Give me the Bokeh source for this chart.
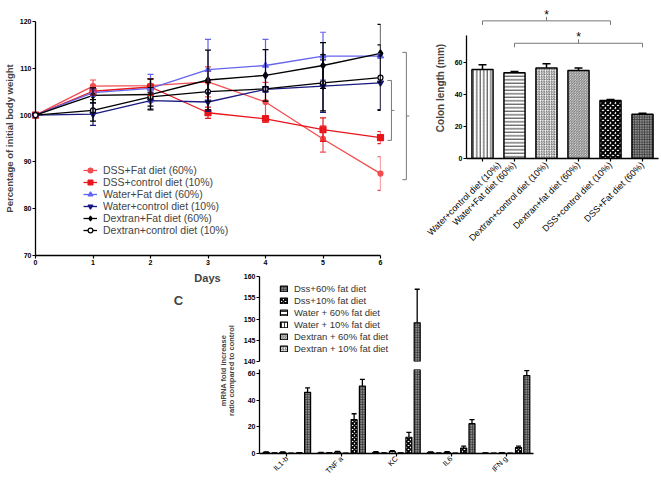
from math import pi
from bokeh.plotting import figure
from bokeh.layouts import column, row
from bokeh.models import (ColumnDataSource, Whisker, TeeHead, Label, Range1d,
                          FactorRange, FixedTicker, Legend, LegendItem, CDSView, BooleanFilter)
from bokeh.transform import dodge
from bokeh.embed import file_html
from bokeh.resources import INLINE
from bokeh.core.properties import value

# ---------------- data: panel A (body weight) ----------------
days = [0, 1, 2, 3, 4, 5, 6]
weight_names = ["DSS+Fat diet (60%)", "DSS+control diet (10%)", "Water+Fat diet (60%)",
                "Water+control diet (10%)", "Dextran+Fat diet (60%)", "Dextran+control diet (10%)"]
dss_fat = [100, 106.2, 106.3, 107.1, 102.8, 94.9, 87.5]
dss_fat_sem = [0, 1.3, 1.5, 3.2, 4.2, 2.8, 3.6]
dss_ctrl = [100, 105.1, 106.0, 100.5, 99.2, 96.9, 95.2]
dss_ctrl_sem = [0, 0.8, 1.8, 1.2, 0.7, 2.5, 1.3]
water_fat = [100, 104.8, 105.7, 109.7, 110.6, 112.6, 112.6]
water_fat_sem = [0, 0.8, 3.0, 6.5, 5.6, 5.1, 0.5]
water_ctrl = [100, 100.2, 103.1, 102.8, 105.5, 106.2, 106.9]
water_ctrl_sem = [0, 2.4, 1.8, 2.0, 0.6, 5.6, 5.7]
dex_fat = [100, 104.2, 104.4, 107.5, 108.5, 110.6, 113.2]
dex_fat_sem = [0, 1.6, 3.3, 6.4, 5.5, 4.9, 6.2]
dex_ctrl = [100, 101.0, 103.9, 105.0, 105.6, 106.9, 108.0]
dex_ctrl_sem = [0, 2.3, 2.0, 2.0, 0.5, 6.0, 7.0]
weight_ticks = [70, 80, 90, 100, 110, 120]

# ---------------- data: panel B (colon length) ----------------
colon_groups = ["Water+control diet (10%)", "Water+Fat diet (60%)", "Dextran+control diet (10%)",
                "Dextran+fat diet (60%)", "DSS+control diet (10%)", "DSS+Fat diet (60%)"]
colon_length = [55.6, 53.6, 56.5, 55.0, 36.2, 27.7]
colon_sem = [2.9, 0.8, 2.7, 1.5, 0.7, 0.5]
colon_ticks = [0, 20, 40, 60]

# ---------------- data: panel C (mRNA) ----------------
cytokines = ["IL1-b", "TNF a", "KC", "IL6", "IFN g"]
mrna_names = ["Water + 10% fat diet", "Water + 60% fat diet", "Dextran + 10% fat diet",
              "Dextran + 60% fat diet", "Dss+10% fat diet", "Dss+60% fat diet"]
water10 = [0.8, 0.5, 0.9, 0.8, 0.3]
water60 = [0.3, 0.4, 0.3, 0.2, 0.2]
dex10 = [0.8, 1.0, 1.5, 0.9, 0.4]
dex60 = [0.2, 0.2, 0.3, 0.2, 0.2]
dss10 = [0.4, 25.4, 12.2, 4.1, 4.5]
dss60 = [45.9, 50.5, 149.1, 22.4, 58.5]
water10_sem = [0.4, 0.3, 0.5, 0.4, 0.2]
water60_sem = [0.2, 0.2, 0.2, 0.2, 0.1]
dex10_sem = [0.4, 0.5, 0.6, 0.4, 0.2]
dex60_sem = [0.1, 0.1, 0.2, 0.1, 0.1]
dss10_sem = [0.3, 4.4, 3.7, 1.5, 1.0]
dss60_sem = [3.3, 5.1, 7.9, 3.0, 3.7]
mrna_low_ticks = [0, 20, 40, 60]
mrna_high_ticks = [140, 145, 150, 155, 160]
legend_order_c = ["Dss+60% fat diet", "Dss+10% fat diet", "Water + 60% fat diet",
                  "Water + 10% fat diet", "Dextran + 60% fat diet", "Dextran + 10% fat diet"]

# ---------------- helpers ----------------
FONT = "Liberation Sans"


def make_fig(x0, y0, w, h, left, top, right, bottom, **kw):
    """Canvas at page position (x0, y0) of size w x h; frame at page box left..right, top..bottom."""
    p = figure(width=w, height=h, output_backend="svg", toolbar_location=None, title=None,
               min_border_left=left - x0, min_border_top=top - y0,
               min_border_right=x0 + w - right, min_border_bottom=y0 + h - bottom,
               frame_align=False, **kw)
    p.border_fill_color = None
    p.background_fill_color = None
    p.outline_line_color = None
    p.grid.visible = False
    return p


def style_axis(ax, size="7px", bold=True, label_size="10.5px"):
    ax.major_label_text_font = FONT
    ax.major_label_text_font_size = size
    ax.major_label_text_font_style = "bold" if bold else "normal"
    ax.major_label_text_color = "black"
    ax.axis_label_text_font = FONT
    ax.axis_label_text_font_style = "bold"
    ax.axis_label_text_font_size = label_size
    ax.minor_tick_line_color = None
    ax.major_tick_in = 0
    ax.major_tick_out = 3
    ax.axis_line_width = 1.3
    ax.major_tick_line_width = 1.2
    ax.major_label_standoff = 1
    ax.axis_label_standoff = 2


def add_text(p, x, y, text, size, bold=False, angle=0, dx=0, dy=0):
    p.add_layout(Label(x=x, y=y, x_offset=dx, y_offset=dy, text=text, text_font=FONT,
                       text_font_size=size, text_font_style="bold" if bold else "normal",
                       text_align="center", text_baseline="middle", angle=angle))


# ================= Panel A =================
pA = make_fig(0, 0, 425, 268, 35, 21, 380, 255,
              x_range=Range1d(0, 6), y_range=Range1d(70, 120))
pA.xaxis.ticker = FixedTicker(ticks=days)
pA.yaxis.ticker = FixedTicker(ticks=weight_ticks)
pA.yaxis.axis_label = "Percentage of initial body weight"
style_axis(pA.xaxis)
style_axis(pA.yaxis, label_size="9.5px")

a_vals = [dss_fat, dss_ctrl, water_fat, water_ctrl, dex_fat, dex_ctrl]
a_sems = [dss_fat_sem, dss_ctrl_sem, water_fat_sem, water_ctrl_sem, dex_fat_sem, dex_ctrl_sem]
a_colors = ["#f24d4d", "#e8141a", "#6464ee", "#181880", "black", "black"]
a_markers = ["circle", "square", "triangle", "inverted_triangle", "diamond", "circle"]
a_fills = ["#f24d4d", "#e8141a", "#6464ee", "#181880", "black", "white"]
a_sizes = [5, 6, 6, 6, 7, 5]

itemsA = []
for name, vals, sems, col, mk, fc, sz in zip(weight_names, a_vals, a_sems, a_colors,
                                             a_markers, a_fills, a_sizes):
    src = ColumnDataSource(dict(x=days, y=vals))
    r1 = pA.line("x", "y", source=src, line_color=col, line_width=1.3, level="annotation")
    wx = [d for d, e in zip(days, sems) if e > 0]
    wu = [v + e for v, e in zip(vals, sems) if e > 0]
    wl = [v - e for v, e in zip(vals, sems) if e > 0]
    wsrc = ColumnDataSource(dict(x=wx, u=wu, l=wl))
    pA.add_layout(Whisker(source=wsrc, base="x", upper="u", lower="l", line_color=col,
                          line_width=1.2, level="annotation",
                          upper_head=TeeHead(size=6, line_color=col, line_width=1.2),
                          lower_head=TeeHead(size=6, line_color=col, line_width=1.2)))
    r2 = pA.scatter("x", "y", source=src, marker=mk, size=sz, line_color=col,
                    fill_color=fc, line_width=1.2, level="annotation")
    itemsA.append(LegendItem(label=name, renderers=[r1, r2]))

legA = Legend(items=itemsA, location=(48, 19), label_text_font=FONT,
              label_text_font_size="10.5px", glyph_width=14, glyph_height=12,
              label_height=12, spacing=0, padding=0, margin=0, label_standoff=6,
              background_fill_alpha=0, border_line_color=None)
pA.add_layout(legA)

last = days[-1]
in_top = max(water_ctrl[-1], dex_ctrl[-1]) - 0.6
in_bot = dss_ctrl[-1] - 0.6
in_mid = (in_top + in_bot) / 2
out_top = max(water_fat[-1], dex_fat[-1]) + 0.2
out_bot = dss_fat[-1] - 1.3
out_mid = (out_top + out_bot) / 2
pA.multi_line(xs=[[last + 0.12, last + 0.19, last + 0.19, last + 0.12], [last + 0.19, last + 0.24],
                  [last + 0.38, last + 0.45, last + 0.45, last + 0.38], [last + 0.45, last + 0.5]],
              ys=[[in_top, in_top, in_bot, in_bot], [in_mid, in_mid],
                  [out_top, out_top, out_bot, out_bot], [out_mid, out_mid]],
              line_color="#777777", line_width=1, level="annotation")
add_text(pA, last + 0.33, in_mid, "*", "13px", dy=-4)
add_text(pA, last + 0.61, out_mid, "**", "13px", dy=-4)
add_text(pA, 0, 120, "A", "13px", bold=True, dx=-25, dy=6)

# ================= Panel B =================
pB = make_fig(425, 0, 234, 268, 466, 17, 658, 158,
              x_range=FactorRange(*colon_groups), y_range=Range1d(0, 88.1))
pB.yaxis.bounds = (0, 77)
pB.yaxis.ticker = FixedTicker(ticks=colon_ticks)
pB.yaxis.axis_label = "Colon length (mm)"
style_axis(pB.yaxis, label_size="10px")
style_axis(pB.xaxis, size="9px", bold=False)
pB.yaxis.axis_label_standoff = 6
pB.xaxis.major_label_orientation = pi / 4
pB.xaxis.major_label_standoff = 2

b_fill = ["white", "white", "white", "white", "white", "#8a8a8a"]
b_hatch = ["|", "-", "/", "\\", "x", "+"]
b_hscale = [3.5, 3.5, 2.5, 2.5, 5.0, 2.5]
b_hweight = [0.8, 0.8, 0.7, 0.7, 2.0, 0.8]
b_hcolor = ["black", "black", "#444444", "#444444", "black", "#333333"]

srcB = ColumnDataSource(dict(g=colon_groups, v=colon_length,
                             up=[v + e for v, e in zip(colon_length, colon_sem)],
                             fill=b_fill, hatch=b_hatch, hscale=b_hscale,
                             hweight=b_hweight, hcolor=b_hcolor))
pB.vbar(x="g", top="v", width=0.66, source=srcB, fill_color="fill", line_color="black",
        line_width=1.5, hatch_pattern="hatch", hatch_scale="hscale", hatch_weight="hweight",
        hatch_color="hcolor")
pB.add_layout(Whisker(source=srcB, base="g", upper="up", lower="v", line_color="black",
                      line_width=1.5, lower_head=None,
                      upper_head=TeeHead(size=8, line_color="black", line_width=1.5)))

sig_levels = [86.0, 72.0]
g = colon_groups
pB.multi_line(xs=[[g[0], g[0], g[4], g[4]], [g[2], g[2]], [g[1], g[1], g[5], g[5]], [g[3], g[3]]],
              ys=[[sig_levels[0] - 2.5, sig_levels[0], sig_levels[0], sig_levels[0] - 2.5],
                  [sig_levels[0], sig_levels[0] + 2.5],
                  [sig_levels[1] - 2.5, sig_levels[1], sig_levels[1], sig_levels[1] - 2.5],
                  [sig_levels[1], sig_levels[1] + 2.5]],
              line_color="#777777", line_width=1, level="annotation")
pB.text(x=[g[2], g[3]], y=[sig_levels[0] + 3.7, sig_levels[1] + 3.7], text=["*", "*"],
        text_align="center", text_baseline="alphabetic", text_font=value(FONT),
        text_font_size="12px", level="annotation")
add_text(pB, 0, 88.1, "B", "13px", bold=True, dx=-32, dy=8)

# ================= label strip under panel A =================
pL = figure(width=238, height=213, output_backend="svg", toolbar_location=None, title=None,
            x_range=Range1d(0, 238), y_range=Range1d(481, 268), min_border=0,
            x_axis_location=None, y_axis_location=None, frame_align=False)
pL.border_fill_color = None
pL.background_fill_color = None
pL.outline_line_color = None
pL.grid.visible = False
add_text(pL, 207, 277, "Days", "11px", bold=True)
add_text(pL, 178, 300, "C", "13px", bold=True)
add_text(pL, 222.7, 370, "mRNA fold increase", "7.5px", bold=True, angle=pi / 2)
add_text(pL, 230.7, 370, "ratio compared to control", "7.5px", bold=True, angle=pi / 2)

# ================= Panel C (broken axis) =================
cUp = make_fig(238, 268, 421, 97, 259, 276, 533, 361,
               x_range=FactorRange(*cytokines), y_range=Range1d(140, 160), x_axis_location=None)
cLow = make_fig(238, 365, 421, 116, 259, 369, 533, 455,
                x_range=FactorRange(*cytokines), y_range=Range1d(0, 63))
cLow.yaxis.ticker = FixedTicker(ticks=mrna_low_ticks)
cUp.yaxis.ticker = FixedTicker(ticks=mrna_high_ticks)
style_axis(cLow.yaxis)
style_axis(cUp.yaxis)
style_axis(cLow.xaxis, size="7.5px", bold=False)
cLow.xaxis.major_label_orientation = pi / 4
cLow.xaxis.major_label_standoff = 1

c_vals = [water10, water60, dex10, dex60, dss10, dss60]
c_sems = [water10_sem, water60_sem, dex10_sem, dex60_sem, dss10_sem, dss60_sem]
c_fill = ["white", "white", "white", "white", "white", "#8a8a8a"]
c_hatch = ["|", "-", "/", "\\", "x", "+"]
c_hscale = [3.0, 3.0, 2.5, 2.5, 4.0, 2.5]
c_hweight = [0.8, 0.8, 0.7, 0.7, 1.6, 0.8]
c_hcolor = ["black", "black", "#444444", "#444444", "black", "#333333"]
offsets = [(i - 2.5) * 0.151 for i in range(6)]

legend_renderers = {}
for fig in (cLow, cUp):
    lo = fig.y_range.start
    for i, (name, vals, sems) in enumerate(zip(mrna_names, c_vals, c_sems)):
        keep = [v > lo for v in vals]
        src = ColumnDataSource(dict(c=cytokines, v=vals, up=[v + e for v, e in zip(vals, sems)]))
        wsrc = ColumnDataSource(dict(c=[c for c, k in zip(cytokines, keep) if k],
                                     v=[v for v, k in zip(vals, keep) if k],
                                     up=[v + e for v, e, k in zip(vals, sems, keep) if k]))
        style = dict(width=0.11, fill_color=c_fill[i], line_color="black", line_width=1.2,
                     hatch_pattern=c_hatch[i], hatch_scale=c_hscale[i],
                     hatch_weight=c_hweight[i], hatch_color=c_hcolor[i])
        fig.vbar(x=dodge("c", offsets[i], range=fig.x_range), top="v", bottom=lo, source=src,
                 view=CDSView(filter=BooleanFilter(keep)), **style)
        fig.add_layout(Whisker(source=wsrc, base=dodge("c", offsets[i], range=fig.x_range),
                               upper="up", lower="v", line_color="black", line_width=1.3,
                               lower_head=None,
                               upper_head=TeeHead(size=5, line_color="black", line_width=1.3)))
        if fig is cUp:
            # legend key renderer for this series (same style, not drawn in the frame)
            legend_renderers[name] = fig.vbar(x=dodge("c", offsets[i], range=fig.x_range),
                                              top="v", bottom=lo, source=src, visible=False,
                                              **style)

legC = Legend(items=[LegendItem(label=n, renderers=[legend_renderers[n]]) for n in legend_order_c],
              location=(20, 7), label_text_font=FONT, label_text_font_size="9.5px",
              label_text_color="#333333", glyph_width=9, glyph_height=7, label_height=12,
              spacing=0, padding=0, margin=0, label_standoff=6, background_fill_alpha=0,
              border_line_color=None)
cUp.add_layout(legC)

layout = column(row(pA, pB), row(pL, column(cUp, cLow)))

open("out.html", "w").write(file_html(layout, INLINE))
